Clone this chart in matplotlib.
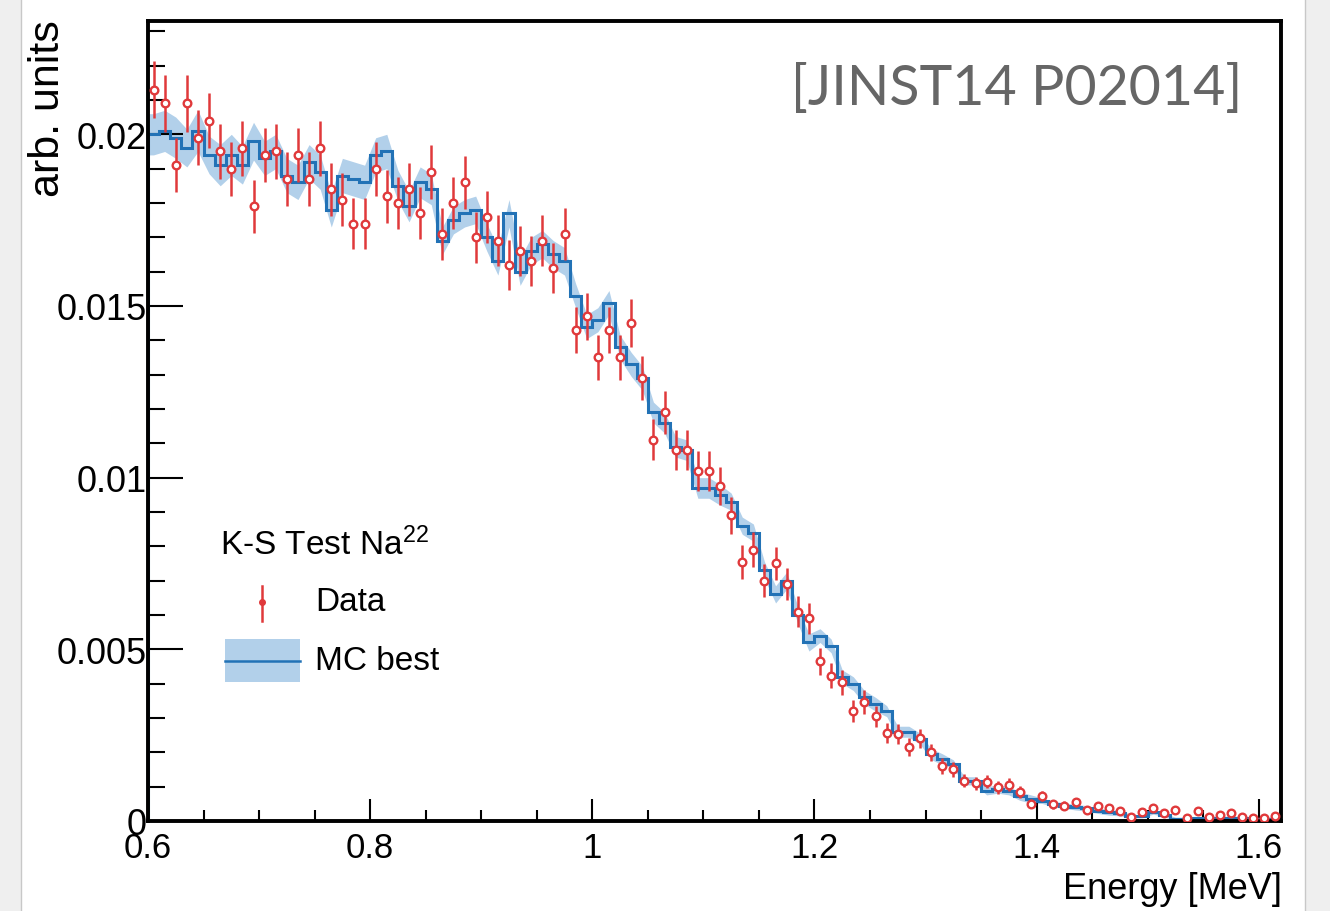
import numpy as np
import matplotlib
matplotlib.use("Agg")
import matplotlib.pyplot as plt
from matplotlib.patches import Rectangle
from matplotlib.lines import Line2D

plt.rcParams['font.family'] = ['Liberation Sans Narrow', 'Liberation Sans', 'DejaVu Sans']
plt.rcParams['mathtext.default'] = 'regular'

# energy binning [MeV]
e_lo = 0.6
e_hi = 1.62
bin_w = 0.01

# measured spectrum (arb. units), one value per bin
data = [0.0213, 0.0209, 0.0191, 0.0209, 0.0199, 0.0204, 0.0195, 0.0190, 0.0196, 0.0179,
        0.0194, 0.0195, 0.0187, 0.0194, 0.0187, 0.0196, 0.0184, 0.0181, 0.0174, 0.0174,
        0.0190, 0.0182, 0.0180, 0.0184, 0.0177, 0.0189,
        0.0171, 0.0180, 0.0186, 0.0170, 0.0176, 0.0169, 0.0162, 0.0166, 0.0163, 0.0169,
        0.0161, 0.0171,
        0.0143, 0.0147, 0.0135, 0.0143, 0.0135, 0.0145, 0.0129, 0.0111, 0.0119, 0.0108,
        0.0108, 0.0102, 0.0102, 0.00975,
        0.0089, 0.00755, 0.0079, 0.0070, 0.0075, 0.0069, 0.0061, 0.0059,
        0.00465, 0.00423, 0.00404, 0.00321, 0.00347, 0.00305, 0.00256, 0.00253, 0.00215, 0.00241,
        0.0020, 0.00161, 0.00151, 0.00117, 0.00110, 0.00114, 0.00098, 0.00106, 0.00085, 0.00050,
        0.00072, 0.00049, 0.00045, 0.00054, 0.00033, 0.00043, 0.00038, 0.00028, 0.00013, 0.00027,
        0.00037, 0.00023, 0.00032, 0.00008, 0.00028, 0.00013, 0.00018, 0.00023, 0.00013, 0.00009,
        0.00009, 0.00015]

data_err = [0.00083, 0.00082, 0.00079, 0.00082, 0.00080, 0.00081, 0.00080, 0.00079, 0.00080, 0.00076,
            0.00079, 0.00080, 0.00078, 0.00079, 0.00078, 0.00080, 0.00077, 0.00077, 0.00075, 0.00075,
            0.00079, 0.00077, 0.00076, 0.00077, 0.00076, 0.00078,
            0.00075, 0.00076, 0.00078, 0.00074, 0.00076, 0.00074, 0.00073, 0.00073, 0.00073, 0.00074,
            0.00072, 0.00075,
            0.00068, 0.00069, 0.00066, 0.00068, 0.00066, 0.00069, 0.00065, 0.00060, 0.00062, 0.00059,
            0.00059, 0.00058, 0.00058, 0.00056,
            0.00054, 0.00050, 0.00051, 0.00048, 0.00049, 0.00047, 0.00045, 0.00044,
            0.00039, 0.00037, 0.00036, 0.00032, 0.00034, 0.00031, 0.00029, 0.00029, 0.00026, 0.00028,
            0.00025, 0.00023, 0.00022, 0.00019, 0.00019, 0.00019, 0.00018, 0.00019, 0.00017, 0.00013,
            0.00015, 0.00013, 0.00012, 0.00013, 0.00010, 0.00012, 0.00011, 0.00010, 0.00006, 0.00009,
            0.00011, 0.00009, 0.00010, 0.00005, 0.00010, 0.00006, 0.00008, 0.00009, 0.00006, 0.00005,
            0.00005, 0.00007]

# best MC histogram
mc = [0.0200, 0.0201, 0.0199, 0.0196, 0.0201, 0.0194, 0.0191, 0.0194, 0.0191, 0.0198,
      0.0193, 0.0195, 0.0188, 0.0186, 0.0192, 0.0189, 0.0178, 0.0188, 0.0187, 0.0186,
      0.0194, 0.0195, 0.0185, 0.0179, 0.0186, 0.0184,
      0.0169, 0.0175, 0.0177, 0.0178, 0.0170, 0.0163, 0.0177, 0.0160, 0.0166, 0.0168,
      0.0165, 0.0163,
      0.0153, 0.0144, 0.0146, 0.0151, 0.0138, 0.0133, 0.0129, 0.0119, 0.0116, 0.0109,
      0.0108, 0.0097, 0.0097, 0.0095,
      0.0093, 0.0086, 0.0084, 0.0073, 0.0066, 0.0070, 0.0060, 0.0052,
      0.0054, 0.0051, 0.0042, 0.0040, 0.0036, 0.0034, 0.0032, 0.0026, 0.0026, 0.0024,
      0.00195, 0.0018, 0.00166, 0.00117, 0.00117, 0.00088, 0.00093, 0.00088, 0.00072, 0.00064,
      0.00059, 0.00049, 0.00045, 0.00040, 0.00037, 0.00030, 0.00025, 0.00023, 0.00014, 0.00014,
      0.00025, 0.00017, 0.00006, 0.00006, 0.00008, 0.00008, 0.00008, 0.00009, 0.00008, 0.00006,
      0.00006, 0.00006]

mc_err = [0.0006, 0.0006, 0.0006, 0.00055, 0.0006, 0.00055, 0.0006, 0.0006, 0.00055, 0.00055,
          0.0005, 0.0005, 0.0005, 0.0005, 0.0005, 0.0005, 0.0005, 0.0005, 0.0005, 0.0005,
          0.0005, 0.0005, 0.00045, 0.00045, 0.00045, 0.00045,
          0.0004, 0.0004, 0.0004, 0.0004, 0.0004, 0.0004, 0.0004, 0.0004, 0.0004, 0.0004,
          0.0004, 0.0004,
          0.00035, 0.00035, 0.00035, 0.00035, 0.00035, 0.00035, 0.00035, 0.0003, 0.0003, 0.0003,
          0.0003, 0.0003, 0.0003, 0.0003,
          0.00025, 0.00025, 0.00025, 0.00025, 0.00025, 0.00025, 0.00025, 0.00025,
          0.0002, 0.0002, 0.0002, 0.0002, 0.0002, 0.0002, 0.00016, 0.00016, 0.00016, 0.00016,
          0.00016, 0.00016, 0.00012, 0.00012, 0.00012, 0.00012, 0.00012, 0.00012, 0.00012, 0.00012,
          0.00008, 0.00008, 0.00008, 0.00008, 0.00008, 0.00008, 0.00008, 0.00008, 0.00005, 0.00005,
          0.00005, 0.00005, 0.00005, 0.00005, 0.00005, 0.00005, 0.00005, 0.00005, 0.00005, 0.00005,
          0.00005, 0.00005]

xticks = [0.6, 0.8, 1.0, 1.2, 1.4, 1.6]
xtick_labels = ['0.6', '0.8', '1', '1.2', '1.4', '1.6']
yticks = [0, 0.005, 0.01, 0.015, 0.02]
ytick_labels = ['0', '0.005', '0.01', '0.015', '0.02']

red = '#e0393b'
blue = '#2272b6'
band_c = '#b2d0ea'

data = np.array(data)
mc = np.array(mc)
mc_err = np.array(mc_err)
edges = e_lo + bin_w * np.arange(len(mc) + 1)
centers = edges[:-1] + bin_w / 2

fig = plt.figure(figsize=(13.3, 9.12), dpi=100)
fig.patch.set_facecolor('#efefef')
fig.patches.append(Rectangle((21 / 1330, -0.01), (1305 - 21) / 1330, 1.02, transform=fig.transFigure,
                             facecolor='white', edgecolor='#c8c8c8', lw=1, zorder=-5))
ax = fig.add_axes([148 / 1330, 90 / 912, 1133 / 1330, 800 / 912])
ax.set_zorder(2)
ax.set_facecolor('none')

# MC band + histogram
bx = np.r_[e_lo, centers, edges[-1]]
by = np.r_[mc[0], mc, mc[-1]]
be = np.r_[mc_err[0], mc_err, mc_err[-1]]
ax.fill_between(bx, by - be, by + be, color=band_c, lw=0, zorder=1)
ax.stairs(mc, edges, baseline=0, color=blue, lw=2.2, zorder=2)

# data
ax.errorbar(centers, data, yerr=data_err, fmt='o', ms=5.5, mfc='white', mec=red, mew=1.7,
            ecolor=red, elinewidth=1.8, capsize=0, zorder=3)

ax.set_xlim(e_lo, e_hi)
ax.set_ylim(0, 0.0233)
ax.set_xticks(xticks, xtick_labels)
ax.set_yticks(yticks, ytick_labels)
ax.set_xticks(np.arange(0.65, 1.62, 0.05), minor=True)
ax.set_yticks(np.arange(0.001, 0.0233, 0.001), minor=True)
ax.tick_params(axis='x', which='major', direction='in', length=16, width=1.5, labelsize=25, pad=7)
ax.tick_params(axis='x', which='minor', direction='in', length=8, width=1.5)
ax.tick_params(axis='y', which='major', direction='in', length=25, width=1.5, labelsize=26, pad=1)
ax.tick_params(axis='y', which='minor', direction='in', length=12.5, width=1.5)
for s in ax.spines.values():
    s.set_linewidth(2.8)

fig.text(48 / 1330, 1 - 20 / 912, 'arb. units', rotation=90, ha='center', va='top', fontsize=31)
fig.text(1282 / 1330, 1 - 872 / 912, 'Energy [MeV]', ha='right', va='top', fontsize=26)

# legend drawn by hand, like the ROOT TLegend
ax.text(0.0636, 0.346, 'K-S Test Na$^{22}$', transform=ax.transAxes, va='center', fontsize=24)
ax.add_line(Line2D([0.1006, 0.1006], [0.25, 0.294], transform=ax.transAxes, color=red, lw=1.8))
ax.add_line(Line2D([0.1006], [0.274], transform=ax.transAxes, marker='o', ms=4, color=red))
ax.text(0.1474, 0.274, 'Data', transform=ax.transAxes, va='center', fontsize=24)
ax.add_patch(Rectangle((0.068, 0.174), 0.066, 0.0535, transform=ax.transAxes,
                       facecolor=band_c, lw=0))
ax.add_line(Line2D([0.068, 0.134], [0.2, 0.2], transform=ax.transAxes, color=blue, lw=1.8))
ax.text(0.1474, 0.2, 'MC best', transform=ax.transAxes, va='center', fontsize=24)

fig.text(1242 / 1330, 1 - 105 / 912, '[JINST14 P02014]', ha='right', va='baseline',
         fontsize=40, family='Lato', color='#666666')

fig.savefig('out.png', dpi=100)
